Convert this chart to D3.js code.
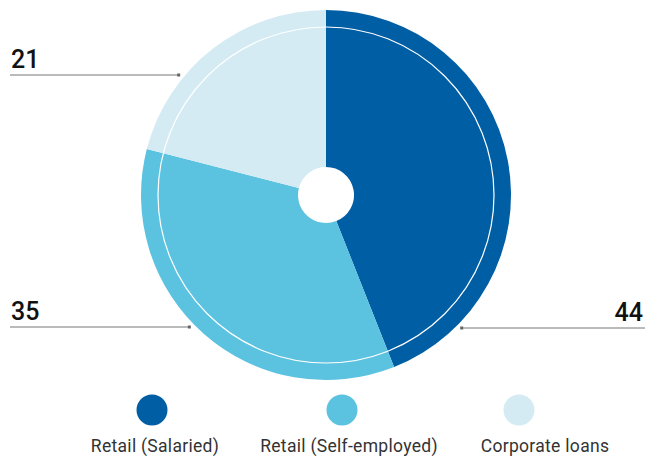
<!DOCTYPE html>
<meta charset="utf-8">
<title>Loan portfolio pie</title>
<style>
body { margin: 0; background: #fff; }
text { font-family: Roboto, "Liberation Sans", sans-serif; }
.value { font-size: 25px; font-weight: 500; fill: #111; }
.legend text { font-size: 17.5px; letter-spacing: 0.3px; fill: #333; }
.leader { stroke: #777; stroke-width: 1; }
</style>
<body>
<script src="https://d3js.org/d3.v7.min.js"></script>
<script>

// data
var categories = ["Retail (Salaried)", "Retail (Self-employed)", "Corporate loans"];
var shares = [44, 35, 21];
var colours = ["#005ea5", "#5bc2e0", "#d5ebf3"];

var width = 655, height = 459;
var cx = 326, cy = 195;
var outerR = 185, ringR = 168, holeR = 28;

var svg = d3.select("body").append("svg")
    .attr("width", width)
    .attr("height", height);

var pie = d3.pie().sort(null).value(function(d) { return d; });
var arc = d3.arc().innerRadius(holeR).outerRadius(outerR);

var g = svg.append("g")
    .attr("transform", "translate(" + cx + "," + cy + ")");

g.selectAll("path")
    .data(pie(shares))
    .enter().append("path")
    .attr("d", arc)
    .attr("fill", function(d, i) { return colours[i]; });

// thin white ring inside the pie
g.append("circle")
    .attr("r", ringR)
    .attr("fill", "none")
    .attr("stroke", "#fff")
    .attr("stroke-width", 1.2);

// value labels with leader lines (side: -1 left, 1 right; line y relative to centre)
var labelSide = [1, -1, -1];
var labelLineY = [133, 132, -120];
var leaderR = 190;

var labels = svg.append("g");
shares.forEach(function(v, i) {
  var side = labelSide[i], ly = cy + labelLineY[i];
  var dx = Math.sqrt(leaderR * leaderR - labelLineY[i] * labelLineY[i]);
  var inner = cx + side * dx;
  var outer = side < 0 ? 10 : 645;
  labels.append("line")
      .attr("class", "leader")
      .attr("x1", outer).attr("x2", inner)
      .attr("y1", ly).attr("y2", ly);
  labels.append("rect")
      .attr("x", inner - 1.5).attr("y", ly - 1.5)
      .attr("width", 3).attr("height", 3)
      .attr("fill", "#666");
  labels.append("text")
      .attr("class", "value")
      .attr("x", side < 0 ? 11 : 643)
      .attr("y", ly - 7)
      .attr("text-anchor", side < 0 ? "start" : "end")
      .text(v);
});

// legend
var legendX = [152, 342, 519];
var legendTextX = [155, 349, 545];
var legend = svg.append("g").attr("class", "legend");
categories.forEach(function(c, i) {
  legend.append("circle")
      .attr("cx", legendX[i]).attr("cy", 410)
      .attr("r", 15.5)
      .attr("fill", colours[i]);
  legend.append("text")
      .attr("x", legendTextX[i]).attr("y", 452)
      .attr("text-anchor", "middle")
      .text(c);
});

</script>
</body>
